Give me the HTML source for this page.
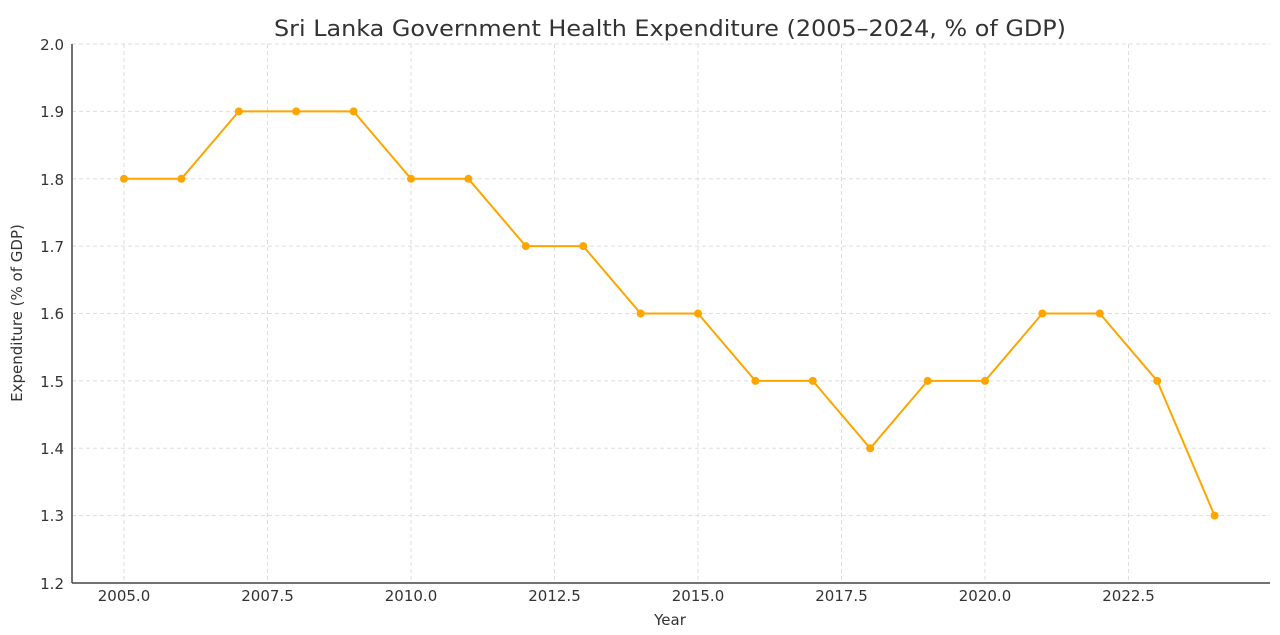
<!DOCTYPE html>
<html><head><meta charset="utf-8"><style>
body{margin:0;background:#fff;}
svg{display:block;font-family:"DejaVu Sans","Liberation Sans",sans-serif;}
</style></head><body>
<svg width="1280" height="635" viewBox="0 0 1280 635" xmlns="http://www.w3.org/2000/svg">
<rect width="1280" height="635" fill="#fff"/>
<text x="670" y="36" font-size="22" text-anchor="middle" fill="#333" textLength="792" lengthAdjust="spacingAndGlyphs">Sri Lanka Government Health Expenditure (2005–2024, % of GDP)</text>
<g stroke="#ddd" stroke-width="1" stroke-dasharray="4,3">
<line x1="124" y1="44" x2="124" y2="583"/><line x1="267.5" y1="44" x2="267.5" y2="583"/>
<line x1="411" y1="44" x2="411" y2="583"/><line x1="554.5" y1="44" x2="554.5" y2="583"/>
<line x1="698" y1="44" x2="698" y2="583"/><line x1="841.5" y1="44" x2="841.5" y2="583"/>
<line x1="985" y1="44" x2="985" y2="583"/><line x1="1128.5" y1="44" x2="1128.5" y2="583"/>
<line x1="72" y1="44" x2="1270" y2="44"/><line x1="72" y1="111.4" x2="1270" y2="111.4"/>
<line x1="72" y1="178.8" x2="1270" y2="178.8"/><line x1="72" y1="246.1" x2="1270" y2="246.1"/>
<line x1="72" y1="313.5" x2="1270" y2="313.5"/><line x1="72" y1="380.9" x2="1270" y2="380.9"/>
<line x1="72" y1="448.3" x2="1270" y2="448.3"/><line x1="72" y1="515.6" x2="1270" y2="515.6"/>
</g>
<g stroke="#444" stroke-width="1.5"><line x1="72" y1="44" x2="72" y2="583"/><line x1="72" y1="583" x2="1270" y2="583"/></g>
<g font-size="15" fill="#333" text-anchor="end">
<text x="64" y="50">2.0</text><text x="64" y="117">1.9</text><text x="64" y="185">1.8</text><text x="64" y="252">1.7</text>
<text x="64" y="319">1.6</text><text x="64" y="387">1.5</text><text x="64" y="454">1.4</text><text x="64" y="521">1.3</text><text x="64" y="589">1.2</text>
</g>
<g font-size="15" fill="#333" text-anchor="middle">
<text x="124" y="601">2005.0</text><text x="267.5" y="601">2007.5</text><text x="411" y="601">2010.0</text><text x="554.5" y="601">2012.5</text>
<text x="698" y="601">2015.0</text><text x="841.5" y="601">2017.5</text><text x="985" y="601">2020.0</text><text x="1128.5" y="601">2022.5</text>
<text x="670" y="625">Year</text>
</g>
<text transform="translate(22,313) rotate(-90)" font-size="15" fill="#333" text-anchor="middle">Expenditure (% of GDP)</text>
<polyline fill="none" stroke="#FFA500" stroke-width="2" points="124,178.8 181.4,178.8 238.8,111.4 296.2,111.4 353.6,111.4 411,178.8 468.4,178.8 525.8,246.1 583.2,246.1 640.6,313.5 698,313.5 755.4,380.9 812.8,380.9 870.2,448.3 927.6,380.9 985,380.9 1042.4,313.5 1099.8,313.5 1157.2,380.9 1214.6,515.6"/>
<g fill="#FFA500">
<circle cx="124" cy="178.8" r="4"/><circle cx="181.4" cy="178.8" r="4"/><circle cx="238.8" cy="111.4" r="4"/><circle cx="296.2" cy="111.4" r="4"/>
<circle cx="353.6" cy="111.4" r="4"/><circle cx="411" cy="178.8" r="4"/><circle cx="468.4" cy="178.8" r="4"/><circle cx="525.8" cy="246.1" r="4"/>
<circle cx="583.2" cy="246.1" r="4"/><circle cx="640.6" cy="313.5" r="4"/><circle cx="698" cy="313.5" r="4"/><circle cx="755.4" cy="380.9" r="4"/>
<circle cx="812.8" cy="380.9" r="4"/><circle cx="870.2" cy="448.3" r="4"/><circle cx="927.6" cy="380.9" r="4"/><circle cx="985" cy="380.9" r="4"/>
<circle cx="1042.4" cy="313.5" r="4"/><circle cx="1099.8" cy="313.5" r="4"/><circle cx="1157.2" cy="380.9" r="4"/><circle cx="1214.6" cy="515.6" r="4"/>
</g>
</svg>
</body></html>
